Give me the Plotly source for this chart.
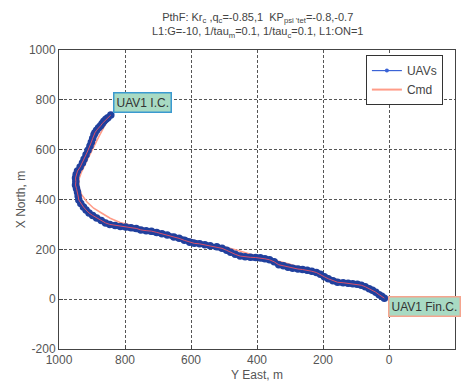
import plotly.graph_objects as go

# UAV trajectory (Y East, X North), metres
uav_east = [843, 852, 858, 864, 869, 874, 880, 886, 891, 894, 898, 902, 906, 912, 918, 924, 929, 936,
            944, 948, 950, 949, 950, 947, 944, 942, 940, 934, 926, 918, 909, 898, 886, 872, 859, 846,
            830, 814, 798, 782, 766, 752, 736, 720, 704, 688, 672, 652, 636, 620, 604, 590, 574, 558,
            542, 522, 506, 492, 480, 466, 451, 436, 420, 404, 390, 376, 362, 348, 334, 320, 306, 292,
            276, 262, 248, 234, 220, 208, 196, 184, 170, 156, 139, 124, 110, 96, 84, 72, 60, 50, 40,
            30, 22, 14]
uav_north = [739, 728, 722, 714, 705, 696, 688, 678, 668, 660, 645, 630, 615, 598, 580, 562, 546, 530,
             514, 500, 486, 472, 458, 444, 430, 414, 398, 384, 370, 358, 346, 336, 326, 316, 306, 300,
             296, 292, 290, 287, 284, 278, 275, 273, 268, 263, 258, 250, 244, 236, 228, 224, 222, 218,
             214, 210, 204, 196, 188, 180, 173, 170, 168, 167, 166, 162, 158, 150, 138, 134, 128, 124,
             121, 119, 116, 112, 107, 100, 90, 82, 74, 68, 66, 64, 62, 60, 56, 50, 42, 36, 28,
             18, 12, 4]

# Commanded path
cmd_east = [840, 860, 880, 900, 918, 932, 940, 940, 932, 915, 895, 870, 845, 815, 780, 740, 700, 660,
            620, 580, 540, 500, 460, 420, 380, 340, 300, 260, 220, 180, 140, 100, 60, 30, 0]
cmd_north = [740, 700, 650, 600, 550, 510, 480, 450, 420, 390, 365, 345, 325, 308, 295, 283, 272, 258,
             245, 232, 220, 210, 196, 180, 168, 155, 140, 122, 108, 88, 70, 55, 40, 20, 0]

start_label = "UAV1 I.C."
end_label = "UAV1 Fin.C."
x_ticks = [1000, 800, 600, 400, 200, 0, -200]
y_ticks = [-200, 0, 200, 400, 600, 800, 1000]

FONT = "Liberation Sans, Arial, sans-serif"
BLUE = "#20409e"
SALMON = "#ff9c88"

fig = go.Figure()
fig.add_trace(go.Scatter(x=cmd_east, y=cmd_north, mode="lines", name="Cmd",
                         line=dict(color=SALMON, width=1.6), showlegend=False))
fig.add_trace(go.Scatter(x=uav_east, y=uav_north, mode="lines+markers", name="UAVs",
                         line=dict(color=BLUE, width=5.5), marker=dict(color=BLUE, size=7.5),
                         showlegend=False))
fig.add_trace(go.Scatter(x=uav_east, y=uav_north, mode="lines", showlegend=False,
                         line=dict(color="#d9506a", width=1), hoverinfo="skip"))
# legend entries
fig.add_trace(go.Scatter(x=[None], y=[None], mode="lines+markers", name="UAVs",
                         line=dict(color="#3b63d6", width=1.2), marker=dict(color="#3b63d6", size=4)))
fig.add_trace(go.Scatter(x=[None], y=[None], mode="lines", name="Cmd",
                         line=dict(color=SALMON, width=2)))

fig.add_annotation(x=cmd_east[0] - 4, y=790, xref="x", yref="y", text=start_label, showarrow=False,
                   xanchor="left", yanchor="middle", bgcolor="#a8dac3", bordercolor="#3a9ad0",
                   borderwidth=1.5, borderpad=2, font=dict(family=FONT, size=12, color="#333"))
fig.add_annotation(x=cmd_east[-1] + 2, y=-28, xref="x", yref="y", text=end_label, showarrow=False,
                   xanchor="left", yanchor="middle", bgcolor="#a8dac3", bordercolor="#f5a48e",
                   borderwidth=1.5, borderpad=2, font=dict(family=FONT, size=12, color="#333"))

fig.add_annotation(x=0.5, y=1, xref="paper", yref="paper", yshift=8, showarrow=False,
                   xanchor="center", yanchor="bottom",
                   text="PthF: Kr<sub>c</sub> ,q<sub>c</sub>=-0.85,1  KP<sub>psi 'tet</sub>=-0.8,-0.7<br>"
                        "L1:G=-10, 1/tau<sub>m</sub>=0.1, 1/tau<sub>c</sub>=0.1, L1:ON=1",
                   font=dict(family=FONT, size=11, color="#444"))

axis_common = dict(showline=True, mirror=True, linecolor="#444", linewidth=1,
                   ticks="inside", ticklen=4, tickcolor="#444", automargin=False,
                   showgrid=True, gridcolor="#555", gridwidth=1, griddash="3px,2px",
                   zeroline=False, tickfont=dict(family=FONT, size=12, color="#555"),
                   title_font=dict(family=FONT, size=12, color="#555"))

fig.update_xaxes(range=[1000, -200], tickvals=x_ticks, ticktext=[str(v) for v in x_ticks],
                 title_text="Y East, m", title_standoff=4, **axis_common)
fig.update_yaxes(range=[-200, 1000], tickvals=y_ticks, ticktext=[str(v) for v in y_ticks],
                 title_text="X North, m", title_standoff=0, **axis_common)

fig.update_layout(width=466, height=385, margin=dict(l=59, r=11, t=50, b=36),
                  paper_bgcolor="white", plot_bgcolor="white",
                  legend=dict(x=0.775, y=0.983, xanchor="left", yanchor="top",
                              bgcolor="white", bordercolor="#333", borderwidth=1,
                              font=dict(family=FONT, size=12, color="#444"),
                              itemwidth=30, tracegroupgap=0))

fig.write_html("out.html")
